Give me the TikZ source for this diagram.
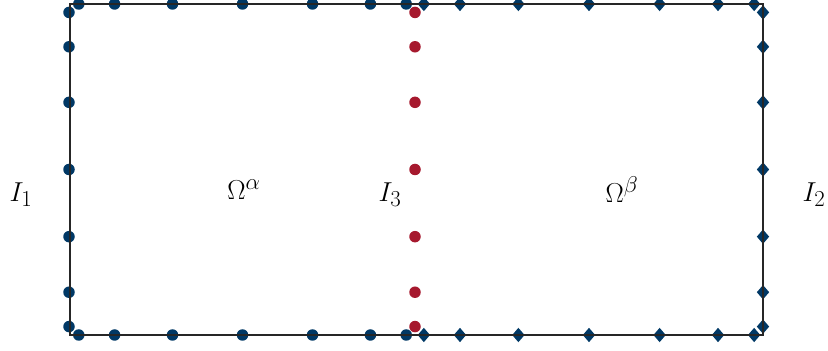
\documentclass[tikz,border=0pt]{standalone}
\usepackage{graphicx}
\usetikzlibrary{shapes.geometric}
\definecolor{ptblue}{RGB}{0,56,101}
\definecolor{ptred}{RGB}{166,25,46}
\newcommand{\biglbl}[1]{\scalebox{1.1}{\Huge #1}}
\tikzset{
  bdry/.style={draw=black!85, line width=1.5pt},
  bdot/.style={circle, fill=ptblue, inner sep=0pt, minimum size=11.5pt},
  rdot/.style={circle, fill=ptred, inner sep=0pt, minimum size=11.5pt},
  bdia/.style={diamond, fill=ptblue, inner sep=0pt, minimum width=12.5pt, minimum height=14.5pt},
  lbl/.style={inner sep=0pt}
}
\begin{document}
\begin{tikzpicture}[x=1pt,y=1pt]
\useasboundingbox (0,0) rectangle (828,351);
\coordinate (A) at (70,16);
\coordinate (B) at (415,16);
\coordinate (C) at (763,16);
\coordinate (D) at (763,347);
\coordinate (E) at (415,347);
\coordinate (F) at (70,347);
% Gauss-Legendre nodes (7)
\foreach \t [count=\i] in {-0.9491079,-0.7415312,-0.4058452,0,0.4058452,0.7415312,0.9491079}{
  % left domain: left edge, top, bottom
  \node[bdot] (al\i) at (69,181.5+165.5*\t) {};
  \node[bdot] (at\i) at (242.5+172.5*\t,347) {};
  \node[bdot] (ab\i) at (242.5+172.5*\t,16) {};
  % interface
  \node[rdot] (ir\i) at (415,181.5+165.5*\t) {};
  % right domain: right edge, top, bottom
  \node[bdia] (br\i) at (763,181.5+165.5*\t) {};
  \node[bdia] (bt\i) at (589+174*\t,347) {};
  \node[bdia] (bb\i) at (589+174*\t,16) {};
}
\draw[bdry] (A) -- (C) -- (D) -- (F) -- cycle;
\node[lbl] (I1) at (21,156) {\biglbl{$I_1$}};
\node[lbl] (Oa) at (244,161) {\biglbl{$\Omega^\alpha$}};
\node[lbl] (I3) at (390,156) {\biglbl{$I_3$}};
\node[lbl] (Ob) at (622,161) {\biglbl{$\Omega^\beta$}};
\node[lbl] (I2) at (814,156) {\biglbl{$I_2$}};
\end{tikzpicture}
\end{document}
